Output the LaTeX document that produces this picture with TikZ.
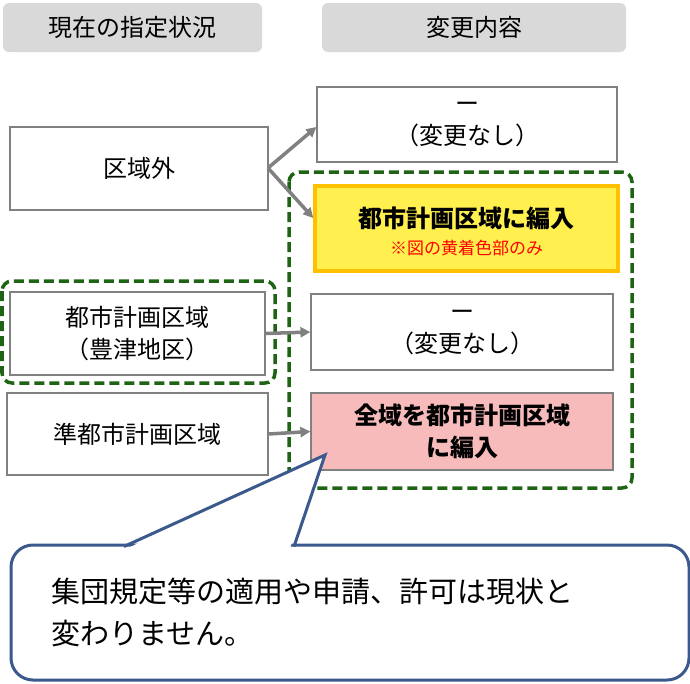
\documentclass[tikz,border=0pt]{standalone}
\usepackage{fontspec}
\setmainfont{Noto Sans CJK JP}
\usetikzlibrary{arrows.meta}
\definecolor{hdrgray}{RGB}{217,217,217}
\definecolor{boxgray}{RGB}{128,128,128}
\definecolor{dkgreen}{RGB}{30,100,20}
\definecolor{ylw}{RGB}{255,240,80}
\definecolor{orng}{RGB}{255,192,0}
\definecolor{pnk}{RGB}{248,187,187}
\definecolor{calloutblue}{RGB}{59,89,140}
\tikzset{
  header/.style={fill=hdrgray, rounded corners=6pt, align=center, font=\fontsize{24}{28}\selectfont},
  plain/.style={draw=boxgray, line width=1.2pt, fill=white, align=center, font=\fontsize{24}{32}\selectfont},
  zone/.style={draw=dkgreen, line width=3.5pt, dash pattern=on 10pt off 5pt, rounded corners=10pt},
  shift arrow/.style={-{Triangle[length=10pt,width=10pt]}, draw=boxgray, line width=3.5pt},
}
\begin{document}
\begin{tikzpicture}[x=1pt,y=-1pt]
  \useasboundingbox (0,0) rectangle (690,683);

  % headers
  \node[header, minimum width=259pt, minimum height=49pt] (hdrNow) at (132.5,27.5) {現在の指定状況};
  \node[header, minimum width=304pt, minimum height=49pt] (hdrNew) at (474,27.5) {変更内容};

  % green zones
  \draw[zone] (289,172) rectangle (632,488);
  \draw[zone] (2,281) rectangle (275,383);

  % left column
  \node[plain, minimum width=258pt, minimum height=83pt] (outside) at (139,168.5) {区域外};
  \node[plain, minimum width=255pt, minimum height=83pt] (cityArea) at (137.5,333.5) {都市計画区域\\（豊津地区）};
  \node[plain, minimum width=261pt, minimum height=82pt] (semiArea) at (137.5,434) {準都市計画区域};

  % right column
  \node[plain, minimum width=300pt, minimum height=75pt] (noChangeA) at (467,124.5) {ー\\（変更なし）};
  \node[draw=orng, fill=ylw, line width=3.5pt, minimum width=303pt, minimum height=85pt] (addPart) at (466.5,228.5) {};
  \node[font=\fontsize{24}{28}\selectfont\bfseries] (addPartText) at (466.5,218) {都市計画区域に編入};
  \node[font=\fontsize{17}{20}\selectfont, text=red] (addPartNote) at (466.5,248) {※図の黄着色部のみ};
  \node[plain, minimum width=302pt, minimum height=76pt] (noChangeB) at (462,332) {ー\\（変更なし）};
  \node[plain, fill=pnk, minimum width=302pt, minimum height=77pt, font=\fontsize{24}{32}\selectfont\bfseries] (addAll) at (462,431.5) {全域を都市計画区域\\に編入};

  % arrows
  \coordinate (split) at (268,168);
  \draw[shift arrow] (split) -- (noChangeA.west |- 0,127);
  \draw[shift arrow] (split) -- (addPart.west |- 0,218);
  \draw[shift arrow] (cityArea.east) -- (noChangeB.west);
  \draw[shift arrow] (semiArea.east) -- (addAll.west);

  % callout
  \draw[draw=calloutblue, line width=3pt, fill=white, rounded corners=22pt]
    (11,545) rectangle (689,680);
  \fill[white] (128,548) -- (325,455) -- (290,548) -- cycle;
  \draw[calloutblue, line width=3pt, line join=miter] (124,546.5) -- (325,455) -- (294,546.5);
  \node[anchor=west, align=left, font=\fontsize{29}{42}\selectfont] (calloutText) at (48,612)
    {集団規定等の適用や申請、許可は現状と\\変わりません。};
\end{tikzpicture}
\end{document}
